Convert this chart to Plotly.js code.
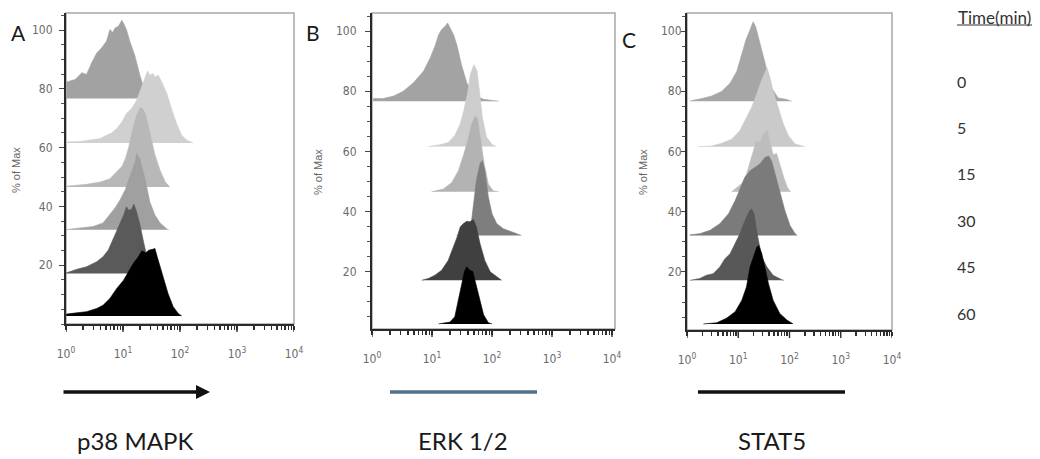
<!DOCTYPE html>
<html>
<head>
<meta charset="utf-8">
<script src="https://cdn.plot.ly/plotly-3.0.1.min.js"></script>
<style>
  html, body { margin: 0; padding: 0; background: #ffffff; }
  #chart { width: 1040px; height: 459px; }
</style>
</head>
<body>
<div id="chart"></div>
<script>
// ---------------- DATA ----------------
// Time points (minutes), top to bottom
const timeLabels = ['0', '5', '15', '30', '45', '60'];
// Stagger offset (% of Max) of each histogram's baseline, top to bottom
const baselineOffsets = [76.7, 61.6, 46.6, 32.1, 17.2, 2.7];
// Panel names
const panelLetters = ['A', 'B', 'C'];
const markerNames = ['p38 MAPK', 'ERK 1/2', 'STAT5'];
// Axis tick labels
const decadeValues = [1, 10, 100, 1000, 10000];
const decadeLabels = ['10<sup>0</sup>', '10<sup>1</sup>', '10<sup>2</sup>', '10<sup>3</sup>', '10<sup>4</sup>'];
const yTickValues = [20, 40, 60, 80, 100];

// Histogram outlines: [log10(fluorescence), height above baseline (% of Max)]
// Panel A: p38 MAPK
const p38_t0 = [[0.01,5.6],[0.16,6.5],[0.28,8.8],[0.36,8.2],[0.45,12.2],[0.54,15.5],[0.63,17.4],[0.71,19.5],[0.77,23.5],[0.82,22.5],[0.86,24],[0.92,24.6],[0.98,26.6],[1.02,25.2],[1.06,23.5],[1.12,19.5],[1.21,14.5],[1.30,7.7],[1.35,4.5],[1.42,0]];
const p38_t5 = [[0.01,0.3],[0.25,0.5],[0.42,0.9],[0.6,1.5],[0.71,2.6],[0.8,3.4],[0.89,4.9],[0.98,7.1],[1.06,10],[1.15,11.7],[1.24,14.5],[1.33,19.6],[1.39,22.4],[1.43,24.5],[1.47,23],[1.53,23.6],[1.56,22.4],[1.62,23],[1.68,20.7],[1.77,16.8],[1.85,11.7],[1.94,6.6],[2.03,2.6],[2.12,0.9],[2.23,0]];
const p38_t15 = [[0.01,0.3],[0.36,0.9],[0.6,1.7],[0.77,2.8],[0.89,5.1],[0.98,7.0],[1.04,9.5],[1.10,13.5],[1.18,20.5],[1.24,24.5],[1.30,27],[1.35,26.5],[1.40,24.5],[1.47,18.1],[1.56,11],[1.65,5.7],[1.74,1.8],[1.82,0]];
const p38_t30 = [[0.01,0],[0.25,0.6],[0.48,1.1],[0.65,2.3],[0.77,5.1],[0.86,7.4],[0.95,10.2],[1.04,13.6],[1.12,18.1],[1.21,22.7],[1.24,25.9],[1.30,23.8],[1.39,17],[1.47,9.5],[1.56,5],[1.65,2.3],[1.77,0.2],[1.80,0]];
const p38_t45 = [[0.01,0.2],[0.19,1.4],[0.36,2.3],[0.54,4],[0.65,5.7],[0.74,7.9],[0.83,11.9],[0.92,15.9],[1.01,19.8],[1.06,22.7],[1.10,21.5],[1.15,21.8],[1.19,23.6],[1.24,20.9],[1.30,16.4],[1.36,10.8],[1.42,5.7],[1.50,1.1],[1.56,0]];
const p38_t60 = [[0.01,0.7],[0.19,1.1],[0.36,1.5],[0.54,2.6],[0.65,3.7],[0.77,6],[0.89,9.4],[1.01,12.2],[1.09,15.1],[1.18,17.9],[1.27,20.2],[1.33,22.2],[1.40,21.5],[1.45,22.4],[1.52,22.7],[1.56,23],[1.60,20.2],[1.65,16.8],[1.72,12.2],[1.79,7.7],[1.88,3.2],[1.97,0.9],[2.03,0]];

// Panel B: ERK 1/2
const erk_t0 = [[0.02,0.9],[0.19,0.9],[0.36,1.7],[0.52,3.3],[0.69,6.1],[0.86,10],[0.97,14.4],[1.05,18.3],[1.11,22.1],[1.16,23.8],[1.22,24.9],[1.26,26],[1.30,24.4],[1.36,22.1],[1.42,18.3],[1.49,12.2],[1.58,6.1],[1.69,2.2],[1.86,0.6],[2.11,0]];
const erk_t5 = [[0.94,0],[1.13,0.6],[1.27,1.4],[1.38,3.7],[1.47,7.5],[1.53,12],[1.59,17.5],[1.64,24.1],[1.70,27.2],[1.75,25.2],[1.79,18.6],[1.84,9.7],[1.91,3.1],[2.00,0.7],[2.07,0]];
const erk_t15 = [[0.99,0],[1.19,0.9],[1.33,3.1],[1.44,7],[1.53,12.5],[1.61,18],[1.66,22.4],[1.72,25.2],[1.76,24.1],[1.81,16.9],[1.87,9.2],[1.94,2.5],[2.02,0.3],[2.11,0]];
const erk_t30 = [[1.41,0],[1.61,0.6],[1.66,5],[1.70,11.6],[1.74,18.3],[1.80,23.8],[1.84,24.9],[1.88,21.6],[1.94,12.7],[2.00,7.2],[2.08,3.9],[2.19,2.2],[2.33,1.1],[2.49,0]];
const erk_t45 = [[0.83,0],[0.94,0.6],[1.05,1.7],[1.16,3.3],[1.27,6.6],[1.36,11.1],[1.42,14.4],[1.47,17.7],[1.52,18.8],[1.58,19.6],[1.63,19.4],[1.69,20.2],[1.74,17.7],[1.80,12.2],[1.88,6.6],[1.97,2.8],[2.08,1.1],[2.16,0]];
const erk_t60 = [[1.11,0],[1.30,0.6],[1.38,2.4],[1.44,8],[1.49,13.5],[1.54,17.4],[1.58,19],[1.62,17.9],[1.68,17.4],[1.73,13.5],[1.79,8],[1.86,3],[1.94,0.4],[2.00,0]];

// Panel C: STAT5
const stat5_t0 = [[0.06,0],[0.09,0.2],[0.29,0.9],[0.48,1.7],[0.68,3.3],[0.84,6],[0.97,9.9],[1.07,15.4],[1.15,20.4],[1.23,23.7],[1.29,26.4],[1.34,24.8],[1.40,20.9],[1.47,15.4],[1.56,9.9],[1.65,4.4],[1.78,1.1],[1.95,0.6],[2.04,0]];
const stat5_t5 = [[0.22,0],[0.48,0.2],[0.68,1.1],[0.87,2.5],[1.03,5.3],[1.16,9.7],[1.26,13],[1.36,17.4],[1.46,22.3],[1.56,26.2],[1.62,22.9],[1.68,18.5],[1.78,13],[1.88,7.5],[1.98,3.6],[2.11,0.9],[2.30,0]];
const stat5_t15 = [[0.87,0],[1.07,2.8],[1.16,5.8],[1.26,11.3],[1.35,16.8],[1.42,16.3],[1.49,19],[1.56,20.7],[1.61,16.8],[1.68,12.4],[1.75,12.7],[1.81,9.1],[1.89,4.7],[1.96,1.4],[2.02,0]];
const stat5_t30 = [[0.06,0.2],[0.25,0.6],[0.45,1.7],[0.64,3.9],[0.81,7.2],[0.94,11.6],[1.03,15.4],[1.13,19.3],[1.23,21.5],[1.33,22.6],[1.42,23.7],[1.52,25.9],[1.59,26.4],[1.65,24.8],[1.72,20.4],[1.81,14.3],[1.91,8.3],[2.01,3.3],[2.11,0.6],[2.15,0]];
const stat5_t45 = [[0.06,0],[0.25,0.6],[0.38,1.7],[0.51,2.2],[0.64,4.4],[0.74,7.2],[0.84,8.8],[0.94,12.1],[1.03,15.4],[1.13,19.8],[1.22,23.1],[1.26,23.7],[1.31,22],[1.37,15.4],[1.46,7.7],[1.56,4.4],[1.68,1.7],[1.85,0.2],[1.89,0]];
const stat5_t60 = [[0.32,0],[0.58,0.4],[0.77,1.9],[0.94,4.1],[1.07,7.9],[1.16,12.3],[1.23,18.9],[1.29,22.2],[1.36,25.5],[1.40,26.1],[1.46,23.3],[1.52,18.9],[1.59,13.4],[1.68,7.9],[1.81,3.5],[1.95,1.3],[2.07,0]];

// Fill colours, top (0 min) to bottom (60 min)
const p38Colors = ['#a2a2a2', '#d0d0d0', '#b8b8b8', '#a0a0a0', '#5a5a5a', '#000000'];
const erkColors = ['#a3a3a3', '#cdcdcd', '#b3b3b3', '#7e7e7e', '#404040', '#000000'];
const stat5Colors = ['#a6a6a6', '#cacaca', '#bdbdbd', '#7b7b7b', '#585858', '#000000'];
const markerLineColors = ['#111111', '#52708c', '#111111'];

// ---------------- BUILD ----------------
const W = 1040, H = 459;
const px = v => v / W;
const py = v => (H - v) / H;

const panels = [
  { series: [p38_t0, p38_t5, p38_t15, p38_t30, p38_t45, p38_t60], colors: p38Colors,
    xd: [66, 294], yd: [324, 13], xr: [0, 4], yr: [0, 105.8], ystand: 4, ylen: 5,
    letter: [18, 32], ylab: [16, 170], name: [135, 440], line: [62, 210] },
  { series: [erk_t0, erk_t5, erk_t15, erk_t30, erk_t45, erk_t60], colors: erkColors,
    xd: [372, 615], yd: [329, 13], xr: [0, 4.05], yr: [1, 106], ystand: 6, ylen: 5,
    letter: [313, 32], ylab: [318, 172], name: [463, 440], line: [390, 537] },
  { series: [stat5_t0, stat5_t5, stat5_t15, stat5_t30, stat5_t45, stat5_t60], colors: stat5Colors,
    xd: [687, 892], yd: [330, 13], xr: [0, 4], yr: [0.7, 106], ystand: -3, ylen: 4,
    letter: [629, 39], ylab: [643, 172], name: [772, 440], line: [698, 845] }
];

// minor log ticks (2..9 within each decade)
const minorVals = [];
for (let d = 0; d < 4; d++) for (let m = 2; m <= 9; m++) minorVals.push(m * Math.pow(10, d));

const tickFont = { family: 'Liberation Sans Narrow, DejaVu Sans Condensed, Arial Narrow, sans-serif', size: 12, color: '#6a6a6a' };

const traces = [];
const layout = {
  width: W, height: H, autosize: false,
  margin: { l: 0, r: 0, t: 0, b: 0, pad: 0 },
  paper_bgcolor: '#ffffff', plot_bgcolor: '#ffffff',
  showlegend: false, annotations: [], shapes: []
};

panels.forEach((p, i) => {
  const sfx = i === 0 ? '' : String(i + 1);
  const xa = 'x' + sfx, ya = 'y' + sfx;
  p.series.forEach((pts, s) => {
    const base = baselineOffsets[s];
    const xs = [Math.pow(10, pts[0][0])];
    const ys = [base];
    pts.forEach(q => { xs.push(Math.pow(10, q[0])); ys.push(base + q[1]); });
    xs.push(Math.pow(10, pts[pts.length - 1][0])); ys.push(base);
    traces.push({ type: 'scatter', mode: 'lines', x: xs, y: ys, fill: 'toself',
      fillcolor: p.colors[s], line: { color: p.colors[s], width: 0.6 },
      xaxis: xa, yaxis: ya, hoverinfo: 'skip', name: timeLabels[s] + ' min' });
  });

  // x axis: decade labels plus unlabeled 2..9 log ticks
  layout['xaxis' + sfx] = {
    domain: [px(p.xd[0]), px(p.xd[1])], anchor: ya, type: 'log', range: p.xr,
    showline: true, linecolor: '#2a2a2a', linewidth: 2,
    ticks: 'outside', ticklen: 4, tickwidth: 1.4, tickcolor: '#2e2e2e',
    tickmode: 'array', tickvals: decadeValues.concat(minorVals),
    ticktext: decadeLabels.concat(minorVals.map(() => '')),
    tickfont: tickFont, ticklabelstandoff: 14,
    showgrid: false, zeroline: false, fixedrange: true
  };
  // longer ticks at each decade
  decadeValues.forEach(v => layout.shapes.push({ type: 'line', xref: xa, yref: 'paper',
    x0: v, x1: v, y0: py(p.yd[0] + 1), y1: py(p.yd[0] + 8), line: { color: '#2e2e2e', width: 1.4 } }));

  layout['yaxis' + sfx] = {
    domain: [py(p.yd[0]), py(p.yd[1])], anchor: xa, range: p.yr,
    showline: true, linecolor: '#2a2a2a', linewidth: 2,
    ticks: 'outside', ticklen: p.ylen, tickwidth: 1, tickcolor: '#444',
    tickmode: 'array', tickvals: yTickValues,
    tickfont: tickFont, ticklabelstandoff: p.ystand,
    minor: { tickmode: 'linear', tick0: 0, dtick: 5, ticks: 'outside', ticklen: 3, tickwidth: 1, tickcolor: '#555' },
    showgrid: false, zeroline: false, fixedrange: true
  };

  // light frame (top / right)
  layout.shapes.push({ type: 'rect', xref: xa + ' domain', yref: ya + ' domain', x0: 0, x1: 1, y0: 0, y1: 1,
    line: { color: '#a8a8a8', width: 1.5 }, layer: 'below' });
  // panel letter
  layout.annotations.push({ xref: 'paper', yref: 'paper', x: px(p.letter[0]), y: py(p.letter[1]),
    text: panelLetters[i], showarrow: false, xanchor: 'center', yanchor: 'middle',
    font: { family: 'Lato, Liberation Sans, sans-serif', size: 21, color: '#1a1a1a' } });
  // y title
  layout.annotations.push({ xref: 'paper', yref: 'paper', x: px(p.ylab[0]), y: py(p.ylab[1]),
    text: '% of Max', textangle: -90, showarrow: false, xanchor: 'center', yanchor: 'middle',
    font: { family: 'Liberation Sans, Arial, sans-serif', size: 11, color: '#666' } });
  // marker name
  layout.annotations.push({ xref: 'paper', yref: 'paper', x: px(p.name[0]), y: py(p.name[1]),
    text: markerNames[i], showarrow: false, xanchor: 'center', yanchor: 'middle',
    font: { family: 'Lato, Open Sans, sans-serif', size: 24, color: '#1a1a1a' } });
  // line under the axis
  if (i === 0) {
    layout.annotations.push({ xref: 'paper', yref: 'paper', x: px(p.line[1]), y: py(392),
      axref: 'pixel', ayref: 'pixel', ax: -(p.line[1] - p.line[0]), ay: 0,
      text: '', showarrow: true, arrowhead: 2, arrowsize: 0.8, arrowwidth: 3.5, arrowcolor: markerLineColors[i] });
  } else {
    layout.shapes.push({ type: 'line', xref: 'paper', yref: 'paper', x0: px(p.line[0]), x1: px(p.line[1]),
      y0: py(392), y1: py(392), line: { color: markerLineColors[i], width: 3.5 } });
  }
});

// Time legend (text)
layout.annotations.push({ xref: 'paper', yref: 'paper', x: px(956), y: py(17),
  text: 'Time(min)', showarrow: false, xanchor: 'left', yanchor: 'middle',
  font: { family: 'Lato, Open Sans, sans-serif', size: 17, color: '#333' } });
layout.shapes.push({ type: 'line', xref: 'paper', yref: 'paper', x0: px(957), x1: px(1032),
  y0: py(25), y1: py(25), line: { color: '#333', width: 1 } });
timeLabels.forEach((t, k) => {
  layout.annotations.push({ xref: 'paper', yref: 'paper', x: px(955), y: py(81 + k * 46.4),
    text: t, showarrow: false, xanchor: 'left', yanchor: 'middle',
    font: { family: 'Lato, Open Sans, sans-serif', size: 16, color: '#333' } });
});

Plotly.newPlot('chart', traces, layout, { staticPlot: true, displayModeBar: false });
</script>
</body>
</html>
